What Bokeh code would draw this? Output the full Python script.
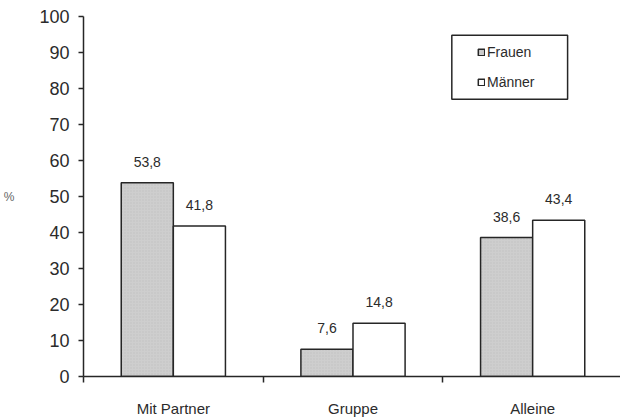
from bokeh.plotting import figure
from bokeh.models import (Range1d, FixedTicker, ColumnDataSource, LabelSet,
                          Legend, LegendItem, BoxAnnotation)
from bokeh.core.properties import value
from bokeh.embed import file_html
from bokeh.resources import INLINE

# --- data -------------------------------------------------------------
categories = ["Mit Partner", "Gruppe", "Alleine"]
frauen = [53.8, 7.6, 38.6]
maenner = [41.8, 14.8, 43.4]
series_names = ["Frauen", "Männer"]
y_ticks = [0, 10, 20, 30, 40, 50, 60, 70, 80, 90, 100]


def fmt(v):
    return f"{v:.1f}".replace(".", ",")


# --- layout constants (pixels) ------------------------------------------
W, H = 620, 419
LEFT, TOP, BOTTOM = 82, 16, 38
CAT_PX = 180                     # pixel width of one category slot
FRAME_W = W - LEFT
FRAME_H = H - TOP - BOTTOM
X_END = FRAME_W / CAT_PX
Y_PX = FRAME_H / 100.0

TEXT = "#2b2b2b"
LINE = "#262626"
FONT = "Liberation Sans"

centers = [i + 0.5 for i in range(len(categories))]
bar_w = 0.29
off = bar_w / 2

src_f = ColumnDataSource(dict(x=[c - off for c in centers], top=frauen,
                              label=[fmt(v) for v in frauen]))
src_m = ColumnDataSource(dict(x=[c + off for c in centers], top=maenner,
                              label=[fmt(v) for v in maenner]))

p = figure(width=W, height=H, output_backend="svg", toolbar_location=None,
           x_range=Range1d(0, X_END), y_range=Range1d(0, 100),
           min_border_left=LEFT, min_border_right=0,
           min_border_top=TOP, min_border_bottom=BOTTOM)
p.outline_line_color = None
p.xgrid.visible = False
p.ygrid.visible = False
p.background_fill_color = "white"

r_f = p.vbar(x="x", top="top", width=bar_w, bottom=0, source=src_f,
             fill_color="#cecece", line_color=LINE, line_width=1.5,
             hatch_pattern="dot", hatch_color="#b0b0b0", hatch_alpha=0.5,
             hatch_scale=3, hatch_weight=0.6)
r_m = p.vbar(x="x", top="top", width=bar_w, bottom=0, source=src_m,
             fill_color="white", line_color=LINE, line_width=1.5)

for src in (src_f, src_m):
    p.add_layout(LabelSet(x="x", y="top", text="label", source=src,
                          y_offset=16, text_align="center",
                          text_baseline="bottom", text_font=value(FONT),
                          text_font_size="14px", text_color=TEXT))

# --- x axis: category names centred, boundary ticks as minor ticks ------
xa = p.xaxis[0]
xa.ticker = FixedTicker(ticks=centers,
                        minor_ticks=list(range(len(categories) + 1)))
xa.major_label_overrides = {c: n for c, n in zip(centers, categories)}
xa.major_tick_line_color = None
xa.major_tick_in = 0
xa.major_tick_out = 0
xa.minor_tick_line_color = LINE
xa.minor_tick_line_width = 1.5
xa.minor_tick_in = 0
xa.minor_tick_out = 6
xa.axis_line_color = LINE
xa.axis_line_width = 1.5
xa.major_label_standoff = 17
xa.major_label_text_font = FONT
xa.major_label_text_font_size = "15px"
xa.major_label_text_color = TEXT

# --- y axis -------------------------------------------------------------
ya = p.yaxis[0]
ya.ticker = FixedTicker(ticks=y_ticks, minor_ticks=[])
ya.major_tick_in = 0
ya.major_tick_out = 5
ya.major_tick_line_color = LINE
ya.major_tick_line_width = 1.5
ya.axis_line_color = LINE
ya.axis_line_width = 1.5
ya.major_label_standoff = 9
ya.major_label_text_font = FONT
ya.major_label_text_font_size = "18px"
ya.major_label_text_color = TEXT
ya.axis_label = "%"
ya.axis_label_orientation = "horizontal"
ya.axis_label_standoff = 22
ya.axis_label_text_font = FONT
ya.axis_label_text_font_style = "normal"
ya.axis_label_text_font_size = "12px"
ya.axis_label_text_color = "#666666"

# --- legend -------------------------------------------------------------
def px_x(px):
    return (px - LEFT) / CAT_PX


def px_y(px):
    return (TOP + FRAME_H - px) / Y_PX


p.add_layout(BoxAnnotation(left=px_x(451), right=px_x(567),
                           top=px_y(35), bottom=px_y(100),
                           fill_alpha=0, line_color=LINE, line_alpha=1,
                           line_width=1.5))

legend = Legend(items=[LegendItem(label=series_names[0], renderers=[r_f]),
                       LegendItem(label=series_names[1], renderers=[r_m])],
                location=(476 - LEFT, TOP + FRAME_H - 97),
                orientation="vertical", glyph_width=8, glyph_height=8,
                label_height=20, label_standoff=2, spacing=10,
                padding=0, margin=0, border_line_color=None,
                background_fill_alpha=0, label_text_font=FONT,
                label_text_font_size="14px", label_text_color=TEXT)
p.add_layout(legend)

open("out.html", "w").write(file_html(p, INLINE))
